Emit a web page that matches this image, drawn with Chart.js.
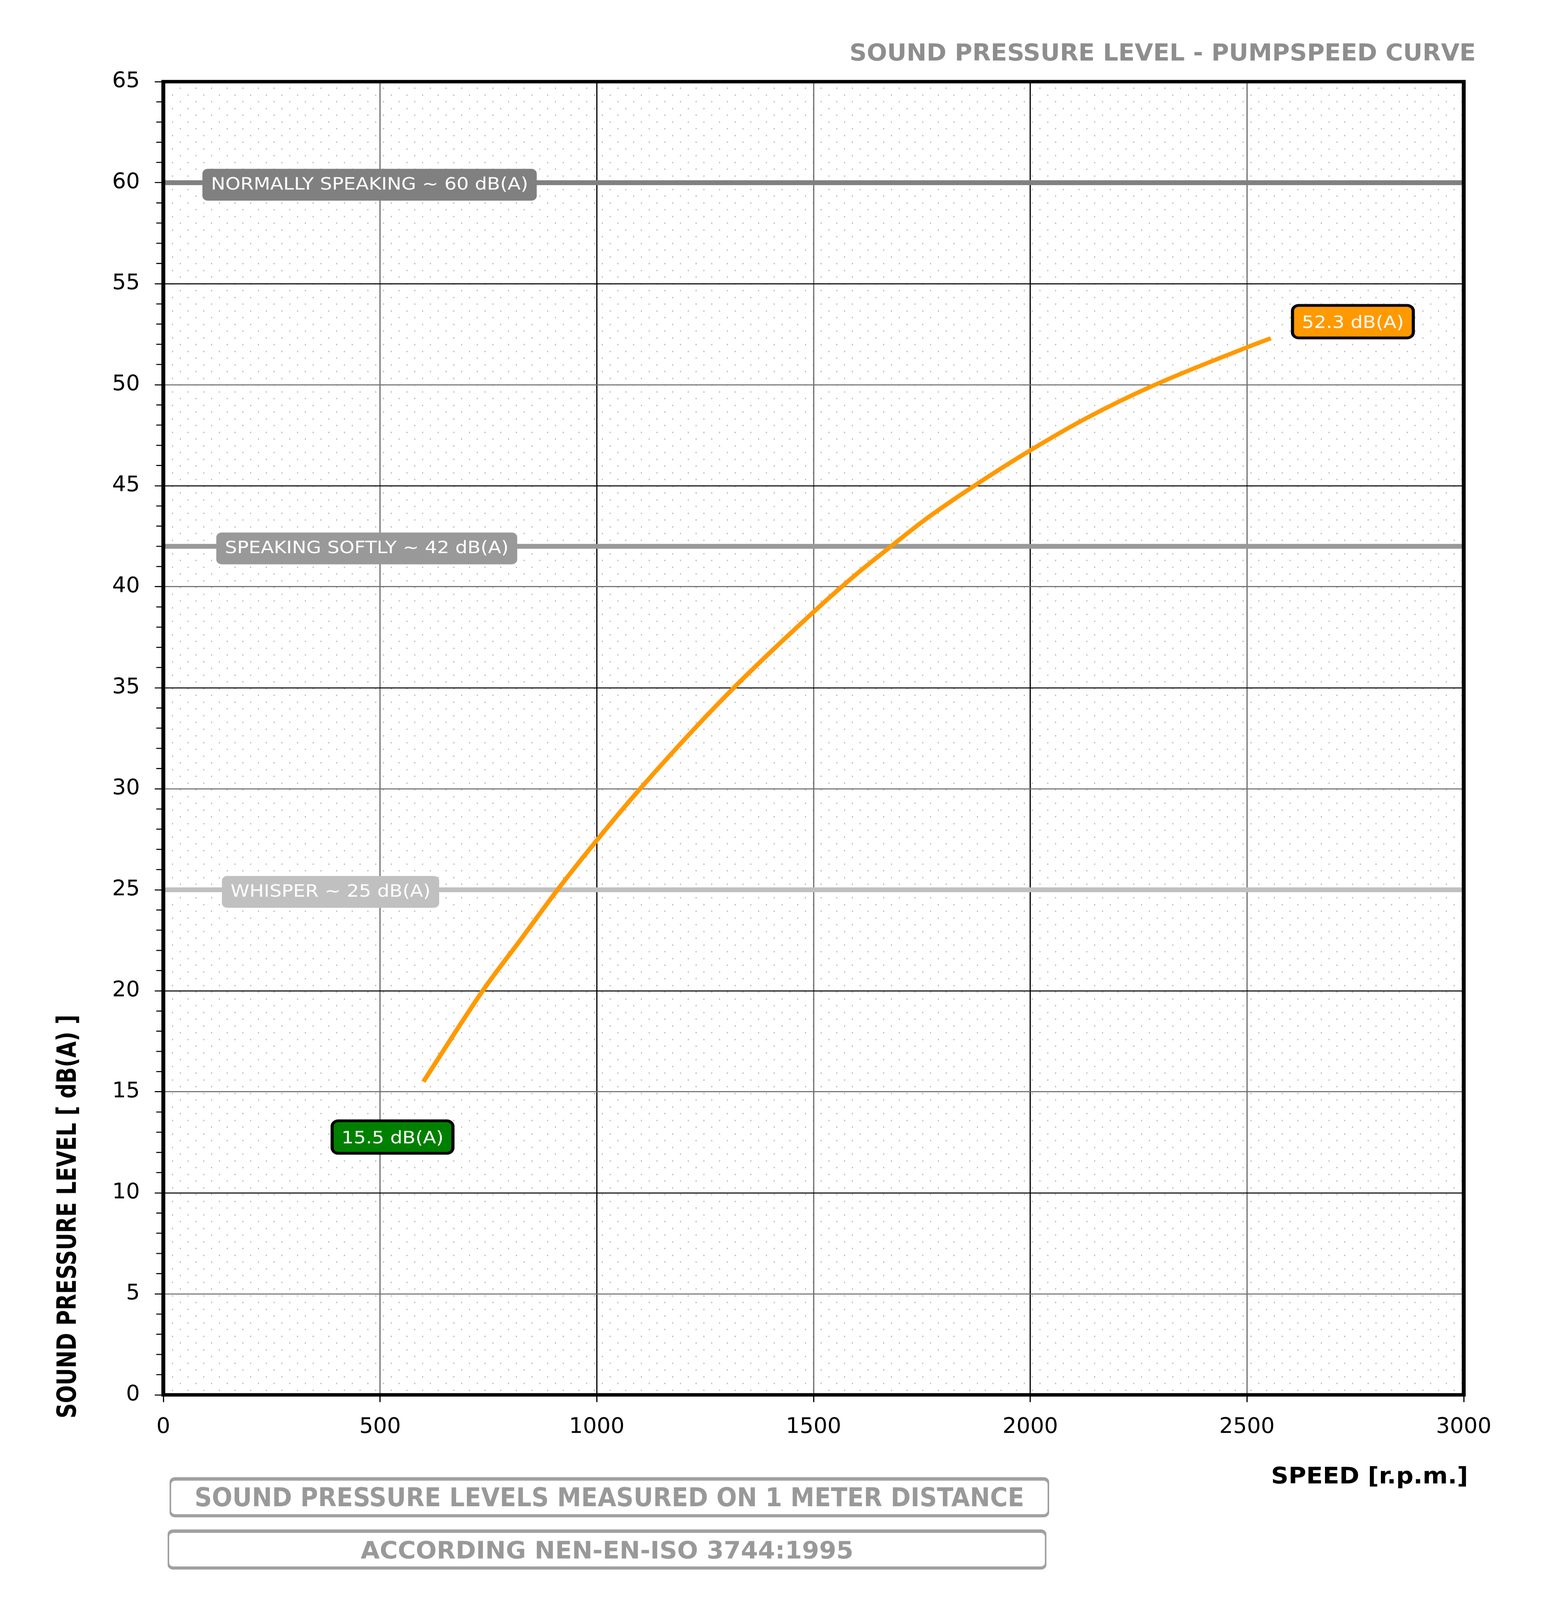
<!DOCTYPE html>
<html>
<head>
<meta charset="utf-8">
<script src="https://cdn.jsdelivr.net/npm/chart.js@4.4.0/dist/chart.umd.min.js"></script>
<style>
  html, body { margin: 0; padding: 0; background: #fff; overflow: hidden; }
  #wrap { width: 3954px; height: 4625px; position: relative; transform-origin: 0 0; }
</style>
</head>
<body>
<div id="wrap"><canvas id="grafico"></canvas></div>
<script>
// pump speed (rpm) and sound pressure level
const speeds = [600, 675, 740, 825, 913, 1000, 1100, 1300, 1500, 1606, 1670, 1756, 1864, 2000, 2130, 2283, 2500, 2555];
const levels = [15.5, 18.0, 20.1, 22.55, 25.1, 27.45, 30.0, 34.65, 38.75, 40.75, 41.85, 43.3, 44.9, 46.75, 48.35, 49.95, 51.85, 52.3];

// reference levels
const refLevels = [60, 42, 25];
const refLabels = ['NORMALLY SPEAKING ~ 60 dB(A)', 'SPEAKING SOFTLY ~ 42 dB(A)', 'WHISPER ~ 25 dB(A)'];

const xTicks = [0, 500, 1000, 1500, 2000, 2500, 3000];
const yTicks = [0, 5, 10, 15, 20, 25, 30, 35, 40, 45, 50, 55, 60, 65];

const chartTitle = 'SOUND PRESSURE LEVEL - PUMPSPEED CURVE';
const yTitle = 'SOUND PRESSURE LEVEL [ dB(A) ]';
const xTitle = 'SPEED [r.p.m.]';
const notes = ['SOUND PRESSURE LEVELS MEASURED ON 1 METER DISTANCE', 'ACCORDING NEN-EN-ISO 3744:1995'];

// styling
const orange = '#ff9900';
const green = '#008000';
const refColors = ['#808080', '#999999', '#c0c0c0'];
const refTextAt = [110, 142, 155]; // rpm where each reference label text starts
const darkX = [1000, 2000];
const darkY = [10, 20, 35, 45, 55];
const condBold = 'bold 68px "DejaVu Sans Condensed", "DejaVu Sans", sans-serif';

// the window may be shorter than the 4625px page: squeeze it in vertically
const pageH = 4625;
const fitY = Math.min(1, window.innerHeight / pageH);
if (fitY < 1) {
    document.getElementById('wrap').style.transform = 'scale(1, ' + fitY + ')';
}

function roundBox(ctx, x, y, w, h, r) {
    ctx.beginPath();
    ctx.moveTo(x + r, y);
    ctx.arcTo(x + w, y, x + w, y + h, r);
    ctx.arcTo(x + w, y + h, x, y + h, r);
    ctx.arcTo(x, y + h, x, y, r);
    ctx.arcTo(x, y, x + w, y, r);
    ctx.closePath();
}

function fitText(ctx, text, x, y, width, align) {
    const k = width / ctx.measureText(text).width;
    ctx.save();
    ctx.translate(x, y);
    ctx.scale(k, 1);
    ctx.textAlign = align;
    ctx.fillText(text, 0, 0);
    ctx.restore();
}

function dotPattern(ctx) {
    const tile = document.createElement('canvas');
    tile.width = 40;
    tile.height = 39;
    const t = tile.getContext('2d');
    t.fillStyle = '#bdbdbd';
    t.fillRect(0, 0, 3, 4);
    t.fillRect(20, 19, 3, 4);
    return ctx.createPattern(tile, 'repeat');
}

const fundoPlugin = {
    id: 'fundo',
    beforeDraw(chart) {
        const { ctx, chartArea: a } = chart;
        ctx.save();
        ctx.fillStyle = '#fff';
        ctx.fillRect(0, 0, chart.width, chart.height);
        ctx.fillStyle = dotPattern(ctx);
        ctx.fillRect(a.left, a.top, a.right - a.left, a.bottom - a.top);
        ctx.restore();
    }
};

const rotulosPlugin = {
    id: 'rotulos',
    afterDatasetsDraw(chart) {
        const { ctx, scales } = chart;
        ctx.save();
        ctx.font = '49px "DejaVu Sans", sans-serif';
        ctx.textBaseline = 'alphabetic';

        // reference line labels
        refLevels.forEach((lv, i) => {
            const y = scales.y.getPixelForValue(lv);
            const tx = scales.x.getPixelForValue(refTextAt[i]);
            const w = ctx.measureText(refLabels[i]).width;
            roundBox(ctx, tx - 22, y - 40, w + 44, 92, 14);
            ctx.fillStyle = refColors[i];
            ctx.fill();
            ctx.fillStyle = '#fff';
            ctx.textAlign = 'left';
            ctx.fillText(refLabels[i], tx, y + 20);
        });

        // first / last value labels on the curve
        const pts = chart.getDatasetMeta(0).data;
        const first = pts[0], last = pts[pts.length - 1];
        const boxes = [
            { text: levels[0] + ' dB(A)', color: green, cx: first.x - 79, cy: first.y + 160 },
            { text: levels[levels.length - 1] + ' dB(A)', color: orange, cx: last.x + 210, cy: last.y - 48 }
        ];
        boxes.forEach(b => {
            const w = ctx.measureText(b.text).width + 48;
            roundBox(ctx, b.cx - w / 2, b.cy - 47, w, 94, 16);
            ctx.fillStyle = b.color;
            ctx.fill();
            ctx.lineWidth = 8;
            ctx.strokeStyle = '#000';
            ctx.stroke();
            ctx.fillStyle = '#fff';
            ctx.textAlign = 'center';
            ctx.fillText(b.text, b.cx, b.cy + 18);
        });
        ctx.restore();
    },
    afterDraw(chart) {
        const { ctx, chartArea: a, scales } = chart;
        ctx.save();

        // frame
        ctx.lineWidth = 10;
        ctx.strokeStyle = '#000';
        ctx.strokeRect(a.left, a.top, a.right - a.left, a.bottom - a.top);

        // minor ticks on y
        ctx.lineWidth = 3;
        ctx.beginPath();
        for (let v = scales.y.min; v <= scales.y.max; v++) {
            if (v % 5 === 0) continue;
            const y = scales.y.getPixelForValue(v);
            ctx.moveTo(a.left - 18, y);
            ctx.lineTo(a.left, y);
        }
        ctx.stroke();

        // title
        ctx.font = condBold;
        ctx.fillStyle = '#8e8e8e';
        fitText(ctx, chartTitle, a.right + 31, 175, 1603, 'right');

        // axis titles
        ctx.fillStyle = '#000';
        ctx.save();
        ctx.translate(194, 4100);
        ctx.rotate(-Math.PI / 2);
        fitText(ctx, yTitle, 0, 0, 1167, 'left');
        ctx.restore();
        ctx.font = 'bold 66px "DejaVu Sans Condensed", "DejaVu Sans", sans-serif';
        fitText(ctx, xTitle, a.right + 11, 4288, 504, 'right');

        // notes at the bottom
        const notesBox = [
            { x: 434, y: 4270, w: 2251, h: 116, tw: 2123, size: 75 },
            { x: 429, y: 4421, w: 2249, h: 116, tw: 1261, size: 70 }
        ];
        notesBox.forEach((b, i) => {
            roundBox(ctx, b.x, b.y, b.w, b.h, 14);
            ctx.fillStyle = '#a0a0a0';
            ctx.fill();
            roundBox(ctx, b.x + 4, b.y + 10, b.w - 8, b.h - 19, 10);
            ctx.fillStyle = '#fff';
            ctx.fill();
            ctx.font = 'bold ' + b.size + 'px "DejaVu Sans Condensed", "DejaVu Sans", sans-serif';
            ctx.fillStyle = '#999999';
            fitText(ctx, notes[i], b.x + b.w / 2, b.y + 84, b.tw, 'center');
        });
        ctx.restore();
    }
};

const ctx = document.getElementById('grafico').getContext('2d');

const datasets = [{
    data: speeds.map((s, i) => ({ x: s, y: levels[i] })),
    borderColor: orange,
    borderWidth: 12,
    pointRadius: 0,
    cubicInterpolationMode: 'monotone',
    order: 0
}];
refLevels.forEach((lv, i) => {
    datasets.push({
        data: [{ x: xTicks[0], y: lv }, { x: xTicks[xTicks.length - 1], y: lv }],
        borderColor: refColors[i],
        borderWidth: 14,
        pointRadius: 0,
        order: 1
    });
});

const tickFont = { family: '"DejaVu Sans Condensed", "DejaVu Sans", sans-serif', size: 62 };

window.meuGrafico = new Chart(ctx, {
    type: 'line',
    data: { datasets: datasets },
    plugins: [fundoPlugin, rotulosPlugin],
    options: {
        responsive: true,
        maintainAspectRatio: false,
        devicePixelRatio: 1,
        animation: false,
        layout: { padding: { top: 236, right: 208, bottom: 0, left: 0 } },
        plugins: {
            legend: { display: false },
            tooltip: { enabled: false }
        },
        scales: {
            x: {
                type: 'linear',
                min: xTicks[0],
                max: xTicks[xTicks.length - 1],
                afterBuildTicks: s => { s.ticks = xTicks.map(v => ({ value: v })); },
                afterFit: s => { s.height = 593; },
                border: { display: false },
                grid: {
                    color: c => darkX.includes(c.tick.value) ? '#000' : '#6e6e6e',
                    lineWidth: 3,
                    tickLength: 21,
                    tickColor: '#000',
                    tickWidth: 3
                },
                ticks: { color: '#000', font: tickFont, padding: 36, maxRotation: 0, callback: v => String(v) }
            },
            y: {
                type: 'linear',
                min: yTicks[0],
                max: yTicks[yTicks.length - 1],
                afterBuildTicks: s => { s.ticks = yTicks.map(v => ({ value: v })); },
                afterFit: s => { s.width = 418; },
                border: { display: false },
                grid: {
                    color: c => darkY.includes(c.tick.value) ? '#000' : '#6e6e6e',
                    lineWidth: 3,
                    tickLength: 22,
                    tickColor: '#000',
                    tickWidth: 3
                },
                ticks: { color: '#000', font: tickFont, padding: 38, callback: v => String(v) }
            }
        }
    }
});
</script>
</body>
</html>
